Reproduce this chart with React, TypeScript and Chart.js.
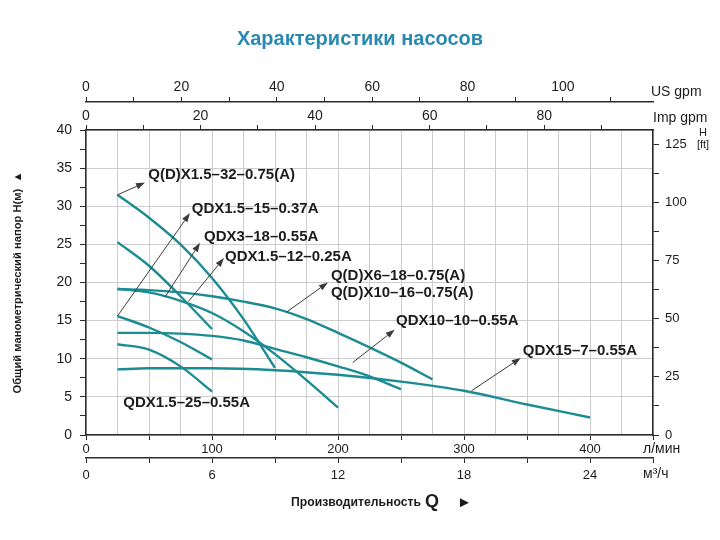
import React, { useEffect, useRef } from "react";
import { Chart, registerables } from "chart.js";

Chart.register(...registerables);

const FONT = '"Liberation Sans", Arial, Helvetica, sans-serif';
const TEAL = "#1b8b94";
const AXIS = "#2b2b2b";
const GRID = "#cdcdcd";

const chartTitle = "Характеристики насосов";
const yAxisTitle = "Общий манометрический напор H(м)  ▲";
const xAxisTitle = "Производительность";

// Pump curves: flow Q (л/мин) and head H (м)
const curveQ1 = [25, 50, 75, 100, 125, 150];
const curveH1 = [31.5, 28.5, 25.0, 20.6, 15.2, 8.8];
const curveQ2 = [25, 50, 75, 100];
const curveH2 = [25.3, 22.2, 18.2, 13.9];
const curveQ3 = [25, 50, 75, 100, 125, 150, 175, 200];
const curveH3 = [19.2, 18.7, 17.6, 16.0, 13.6, 10.6, 7.2, 3.6];
const curveQ4 = [25, 50, 75, 100, 125, 150, 175, 200, 225, 250, 275];
const curveH4 = [19.1, 19.0, 18.7, 18.2, 17.5, 16.6, 15.2, 13.4, 11.5, 9.5, 7.3];
const curveQ5 = [25, 50, 75, 100];
const curveH5 = [15.6, 14.1, 12.2, 9.9];
const curveQ6 = [25, 50, 75, 100, 125, 150, 175, 200, 225, 250];
const curveH6 = [13.4, 13.4, 13.3, 13.0, 12.4, 11.3, 10.2, 9.0, 7.7, 6.0];
const curveQ7 = [25, 50, 75, 100];
const curveH7 = [11.9, 11.2, 9.0, 5.7];
const curveQ8 = [25, 50, 100, 150, 200, 250, 300, 350, 400];
const curveH8 = [8.6, 8.75, 8.75, 8.5, 7.9, 7.0, 5.8, 4.0, 2.3];

const curvesQ = [curveQ1, curveQ2, curveQ3, curveQ4, curveQ5, curveQ6, curveQ7, curveQ8];
const curvesH = [curveH1, curveH2, curveH3, curveH4, curveH5, curveH6, curveH7, curveH8];

// Model labels (data coordinates of left edge / vertical centre)
const labelTexts = [
  "Q(D)X1.5–32–0.75(A)",
  "QDX1.5–15–0.37A",
  "QDX3–18–0.55A",
  "QDX1.5–12–0.25A",
  "Q(D)X6–18–0.75(A)",
  "Q(D)X10–16–0.75(A)",
  "QDX10–10–0.55A",
  "QDX15–7–0.55A",
  "QDX1.5–25–0.55A",
];
const labelQ = [49.4, 83.9, 93.7, 110.3, 194.4, 194.4, 246, 346.6, 29.6];
const labelH = [34.1, 29.6, 26.0, 23.3, 20.85, 18.6, 14.95, 11.05, 4.24];

// Leader arrows (from curve point to label)
const arrowFromQ = [25, 25, 62.7, 81.2, 159, 211.6, 306];
const arrowFromH = [31.5, 15.6, 18.1, 17.5, 16.1, 9.5, 5.8];
const arrowToQ = [46.8, 82.5, 90.5, 109.5, 192, 245, 345];
const arrowToH = [33.1, 29.1, 25.2, 23.2, 20.0, 13.8, 10.1];

// Axis ranges
const flowMax = 450; // л/мин
const flowMaxM3h = 27; // м³/ч (= 450 л/мин)
const headMax = 40; // м
const LPM_PER_USGPM = 3.78541;
const LPM_PER_IMPGPM = 4.54609;
const FT_PER_M = 3.28084;

const isMultiple = (v: number, step: number) => Math.abs(v / step - Math.round(v / step)) < 1e-6;

const annotate = {
  id: "annotate",
  afterDatasetsDraw(chart: any) {
    const { ctx, scales } = chart;
    const x = scales.x;
    const y = scales.y;
    ctx.save();
    ctx.strokeStyle = "#3a3a3a";
    ctx.fillStyle = "#3a3a3a";
    ctx.lineWidth = 1;
    for (let i = 0; i < arrowFromQ.length; i++) {
      const x0 = x.getPixelForValue(arrowFromQ[i]);
      const y0 = y.getPixelForValue(arrowFromH[i]);
      const x1 = x.getPixelForValue(arrowToQ[i]);
      const y1 = y.getPixelForValue(arrowToH[i]);
      const ang = Math.atan2(y1 - y0, x1 - x0);
      const len = 9;
      const w = 3.2;
      const bx = x1 - len * Math.cos(ang);
      const by = y1 - len * Math.sin(ang);
      ctx.beginPath();
      ctx.moveTo(x0, y0);
      ctx.lineTo(bx, by);
      ctx.stroke();
      ctx.beginPath();
      ctx.moveTo(x1, y1);
      ctx.lineTo(bx + w * Math.sin(ang), by - w * Math.cos(ang));
      ctx.lineTo(bx - w * Math.sin(ang), by + w * Math.cos(ang));
      ctx.closePath();
      ctx.fill();
    }
    ctx.font = `bold 15px ${FONT}`;
    ctx.fillStyle = "#1c1c1c";
    ctx.textAlign = "left";
    ctx.textBaseline = "middle";
    for (let i = 0; i < labelTexts.length; i++) {
      ctx.fillText(labelTexts[i], x.getPixelForValue(labelQ[i]), y.getPixelForValue(labelH[i]));
    }
    ctx.restore();
  },
  afterDraw(chart: any) {
    const { ctx, chartArea, scales } = chart;
    ctx.save();
    ctx.fillStyle = "#1c1c1c";
    ctx.textBaseline = "middle";
    ctx.textAlign = "left";
    ctx.font = `14px ${FONT}`;
    ctx.fillText("US gpm", chartArea.right - 2, scales.us.bottom - 10);
    ctx.fillText("Imp gpm", chartArea.right, chartArea.top - 12);
    ctx.fillText("л/мин", chartArea.right - 10, chartArea.bottom + 14);
    ctx.fillText("м³/ч", chartArea.right - 10, scales.m3.top + 16);
    ctx.textAlign = "center";
    ctx.font = `11px ${FONT}`;
    ctx.fillText("H", scales.ft.left + 50, chartArea.top + 3);
    ctx.fillText("[ft]", scales.ft.left + 50, chartArea.top + 15);
    // bottom title
    ctx.textAlign = "left";
    const ty = scales.m3.bottom + 15;
    let tx = 291;
    ctx.font = `bold 12.2px ${FONT}`;
    ctx.fillText(xAxisTitle, tx, ty);
    tx += ctx.measureText(xAxisTitle).width + 4;
    ctx.font = `bold 18px ${FONT}`;
    ctx.fillText("Q", tx, ty - 1);
    tx += ctx.measureText("Q").width + 18;
    ctx.font = `15px ${FONT}`;
    ctx.fillText("►", tx, ty);
    ctx.restore();
  },
};

const tickFont = (size: number) => ({ family: FONT, size });

export default function App() {
  const canvasRef = useRef<HTMLCanvasElement | null>(null);

  useEffect(() => {
    const canvas = canvasRef.current;
    if (!canvas) return;
    const datasets = curvesQ.map((qs, i) => ({
      data: qs.map((q, j) => ({ x: q, y: curvesH[i][j] })),
      borderColor: TEAL,
      backgroundColor: TEAL,
      borderWidth: 2.4,
      pointRadius: 0,
      fill: false,
      cubicInterpolationMode: "monotone" as const,
      xAxisID: "x",
      yAxisID: "y",
    }));

    const chart = new Chart(canvas, {
      type: "line",
      data: { datasets },
      plugins: [annotate],
      options: {
        animation: false,
        responsive: false,
        devicePixelRatio: 1,
        layout: { padding: { top: 0, left: 0, right: 0, bottom: 52 } },
        plugins: {
          legend: { display: false },
          tooltip: { enabled: false },
          title: {
            display: true,
            text: chartTitle,
            color: "#2a89b0",
            font: { family: FONT, size: 20, weight: "bold" },
            padding: { top: 27, bottom: 25 },
          },
        },
        scales: {
          x: {
            type: "linear",
            position: "bottom",
            weight: 0,
            min: 0,
            max: flowMax,
            afterFit: (s: any) => {
              s.height = 23;
            },
            ticks: {
              stepSize: 25,
              autoSkip: false,
              maxRotation: 0,
              minRotation: 0,
              includeBounds: false,
              padding: 2,
              color: "#1c1c1c",
              font: tickFont(13),
              callback: (v: any) => (isMultiple(Number(v), 100) ? String(Math.round(Number(v))) : ""),
            },
            grid: {
              color: GRID,
              lineWidth: 1,
              tickLength: 5,
              tickColor: (c: any) => (c.tick && isMultiple(c.tick.value, 50) ? AXIS : "rgba(0,0,0,0)"),
            },
            border: { display: true, color: AXIS, width: 1.5 },
          },
          m3: {
            type: "linear",
            position: "bottom",
            weight: 1,
            min: 0,
            max: flowMaxM3h,
            afterFit: (s: any) => {
              s.height = 30;
            },
            ticks: {
              stepSize: 3,
              autoSkip: false,
              maxRotation: 0,
              minRotation: 0,
              includeBounds: false,
              padding: 5,
              color: "#1c1c1c",
              font: tickFont(13),
              callback: (v: any) => (isMultiple(Number(v), 6) ? String(Math.round(Number(v))) : ""),
            },
            grid: {
              drawOnChartArea: false,
              tickLength: 5,
              tickColor: AXIS,
            },
            border: { display: true, color: AXIS, width: 1.5 },
          },
          imp: {
            type: "linear",
            position: "top",
            weight: 0,
            min: 0,
            max: flowMax / LPM_PER_IMPGPM,
            afterFit: (s: any) => {
              s.height = 28;
            },
            ticks: {
              stepSize: 10,
              autoSkip: false,
              maxRotation: 0,
              minRotation: 0,
              includeBounds: false,
              padding: 0,
              color: "#1c1c1c",
              font: tickFont(14),
              callback: (v: any) => (isMultiple(Number(v), 20) ? String(Math.round(Number(v))) : ""),
            },
            grid: { drawOnChartArea: false, tickLength: 5, tickColor: AXIS },
            border: { display: true, color: AXIS, width: 1.5 },
          },
          us: {
            type: "linear",
            position: "top",
            weight: 1,
            min: 0,
            max: flowMax / LPM_PER_USGPM,
            afterFit: (s: any) => {
              s.height = 26;
            },
            ticks: {
              stepSize: 10,
              autoSkip: false,
              maxRotation: 0,
              minRotation: 0,
              includeBounds: false,
              padding: 1,
              color: "#1c1c1c",
              font: tickFont(14),
              callback: (v: any) => (isMultiple(Number(v), 20) ? String(Math.round(Number(v))) : ""),
            },
            grid: { drawOnChartArea: false, tickLength: 5, tickColor: AXIS },
            border: { display: true, color: AXIS, width: 1.5 },
          },
          y: {
            type: "linear",
            position: "left",
            min: 0,
            max: headMax,
            afterFit: (s: any) => {
              s.width = 86;
            },
            title: {
              display: true,
              text: yAxisTitle,
              color: "#1c1c1c",
              font: { family: FONT, size: 11.2, weight: "bold" },
              padding: { top: 11, bottom: 0 },
            },
            ticks: {
              stepSize: 2.5,
              autoSkip: false,
              includeBounds: false,
              padding: 8,
              color: "#1c1c1c",
              font: tickFont(14),
              callback: (v: any) => (isMultiple(Number(v), 5) ? String(Math.round(Number(v))) : ""),
            },
            grid: {
              color: (c: any) => (c.tick && isMultiple(c.tick.value, 5) ? GRID : "rgba(0,0,0,0)"),
              lineWidth: 1,
              tickLength: 6,
              tickColor: AXIS,
            },
            border: { display: true, color: AXIS, width: 1.5 },
          },
          ft: {
            type: "linear",
            position: "right",
            min: 0,
            max: headMax * FT_PER_M,
            afterFit: (s: any) => {
              s.width = 67;
            },
            ticks: {
              stepSize: 12.5,
              autoSkip: false,
              includeBounds: false,
              padding: 6,
              color: "#1c1c1c",
              font: tickFont(13),
              callback: (v: any) => (isMultiple(Number(v), 25) ? String(Math.round(Number(v))) : ""),
            },
            grid: { drawOnChartArea: false, tickLength: 6, tickColor: AXIS },
            border: { display: true, color: AXIS, width: 1.5 },
          },
        },
      } as any,
    });
    return () => chart.destroy();
  }, []);

  return (
    <div style={{ position: "absolute", left: 0, top: 0, width: 720, height: 540, background: "#fff" }}>
      <canvas ref={canvasRef} width={720} height={540} style={{ display: "block", width: 720, height: 540 }} />
    </div>
  );
}
